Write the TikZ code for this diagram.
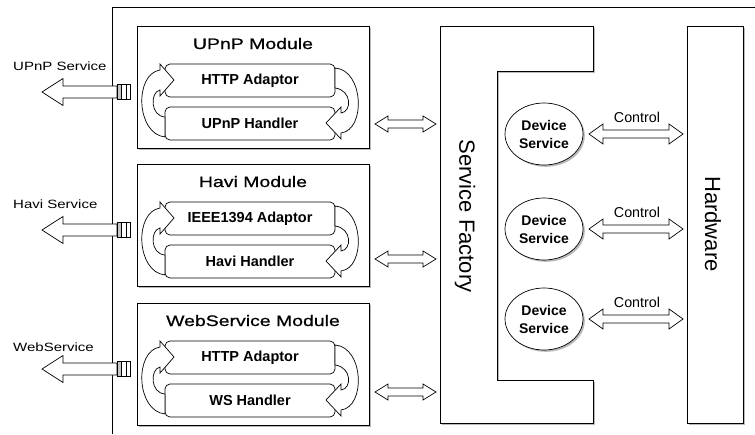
\documentclass[tikz,border=0pt]{standalone}
\usepackage{fontspec}
\setmainfont{Liberation Sans}
\newfontfamily\widefont[FakeStretch=1.25]{Liberation Sans}
\newfontfamily\titlefont[FakeStretch=1.28,FakeBold=0.7]{Liberation Sans}
\usetikzlibrary{shapes.geometric,shadows}
\tikzset{
  ln/.style={draw=black, line width=0.7pt},
  blk/.style={ln, fill=white, line join=miter},
  shd/.style={drop shadow={shadow xshift=1.8pt, shadow yshift=-1.8pt, fill=gray!55, opacity=1}},
  modbox/.style={ln, fill=white, shd, minimum width=232pt, minimum height=122pt, anchor=north west, inner sep=0pt},
  inbox/.style={ln, fill=white, rounded corners=5pt, minimum width=170pt, minimum height=33pt, inner sep=0pt, font=\bfseries\fontsize{14.5}{16}\selectfont},
  titletxt/.style={inner sep=0pt, font=\titlefont\fontsize{15.2}{18}\selectfont},
  svctxt/.style={inner sep=0pt, font=\widefont\fontsize{12}{14}\selectfont},
  rottxt/.style={inner sep=0pt, rotate=-90, font=\fontsize{22}{24}\selectfont},
  devnode/.style={ellipse, ln, fill=white, shd, minimum width=78pt, minimum height=62pt, inner sep=0pt, align=center, font=\bfseries\fontsize{14}{18}\selectfont},
  ctltxt/.style={inner sep=0pt, font=\fontsize{14.3}{16}\selectfont},
  port/.style={ln, line width=0.5pt, fill=white},
}
% double hollow arrow: left tip x, right tip x, y, head length, head half height, shaft half height
\newcommand\dblarr[6]{%
  \draw[blk] (#1,#3) -- ({#1+#4},{#3-#5}) -- ({#1+#4},{#3-#6}) -- ({#2-#4},{#3-#6}) -- ({#2-#4},{#3-#5})
    -- (#2,#3) -- ({#2-#4},{#3+#5}) -- ({#2-#4},{#3+#6}) -- ({#1+#4},{#3+#6}) -- ({#1+#4},{#3+#5}) -- cycle;}
% single hollow arrow pointing left: tip x, tail x, y, head length, head half, shaft half
\newcommand\leftarr[6]{%
  \draw[blk] (#1,#3) -- ({#1+#4},{#3-#5}) -- ({#1+#4},{#3-#6}) -- (#2,{#3-#6}) -- (#2,{#3+#6})
    -- ({#1+#4},{#3+#6}) -- ({#1+#4},{#3+#5}) -- cycle;}
\begin{document}
\begin{tikzpicture}[x=1pt,y=-1pt]
\useasboundingbox (0,0) rectangle (755,434);
\fill[white] (0,0) rectangle (755,434);
% outer frame
\coordinate (frTR) at (755,7);
\coordinate (frTL) at (112,7);
\coordinate (frBL) at (112,434);
\draw[ln] (frTR) -- (frTL) -- (frBL);

\foreach \t/\title/\up/\lo/\svc/\lb/\n in {
  26/UPnP Module/HTTP Adaptor/UPnP Handler/UPnP Service/44/1,
  164/Havi Module/IEEE1394 Adaptor/Havi Handler/Havi Service/44/2,
  303/WebService Module/HTTP Adaptor/WS Handler/WebService/48/3}{
  \node[modbox] (m\n) at (137,\t) {};
  \node[titletxt, anchor=base] (mt\n) at (253,{\t+23}) {\title};
  \node[inbox] (ua\n) at (250,{\t+54.5}) {\up};
  \node[inbox] (lh\n) at (250,{\t+97.5}) {\lo};
  \begin{scope}[shift={(0,\t)}]
    \draw[blk] (165,111) .. controls (136,108) and (134,48) .. (160,44) -- (160,38) -- (174,54)
      -- (160,70) -- (160,64) .. controls (150,66) and (150,90) .. (165,91) -- cycle;
    \draw[blk] (335,42) .. controls (364,44) and (366,104) .. (341,107) -- (341,113) -- (326,97)
      -- (341,81) -- (341,87) .. controls (352,86) and (352,64) .. (335,62) -- cycle;
    \leftarr{42}{117}{66}{21}{13.5}{6}
    \draw[port, fill=gray!45] (117,58.5) rectangle (121.5,73.5);
    \draw[port] (121.5,58.5) rectangle (125.8,73.5);
    \draw[port] (125.8,58.5) rectangle (130,73.5);
  \end{scope}
  \node[svctxt, anchor=base west] (s\n) at (13,{\t+\lb}) {\svc};
}

% Service Factory
\coordinate (f1) at (440,26);
\coordinate (f2) at (593,26);
\coordinate (f3) at (593,71);
\coordinate (f4) at (497,71);
\coordinate (f5) at (497,380);
\coordinate (f6) at (593,380);
\coordinate (f7) at (593,423);
\coordinate (f8) at (440,423);
\draw[ln, fill=white, shd] (f1) -- (f2) -- (f3) -- (f4) -- (f5) -- (f6) -- (f7) -- (f8) -- cycle;
\node[rottxt] (sf) at (465,216) {Service Factory};

% Hardware
\node[ln, fill=white, shd, anchor=north west, minimum width=56pt, minimum height=397pt, inner sep=0pt] (hw) at (687,26) {};
\node[rottxt] (hwl) at (713,224) {Hardware};

% module <-> factory arrows
\dblarr{375}{436}{124}{13}{8}{4}
\dblarr{375}{436}{259}{13}{8}{4}
\dblarr{375}{436}{392}{13}{8}{4}

% device services
\foreach \y/\n in {134/1, 229/2, 319/3}{
  \node[devnode] (ds\n) at (544,\y) {Device\\Service};
  \dblarr{589}{683}{\y}{14}{10}{4}
  \node[ctltxt, anchor=base] (c\n) at (637,{\y-12}) {Control};
}
\end{tikzpicture}
\end{document}
